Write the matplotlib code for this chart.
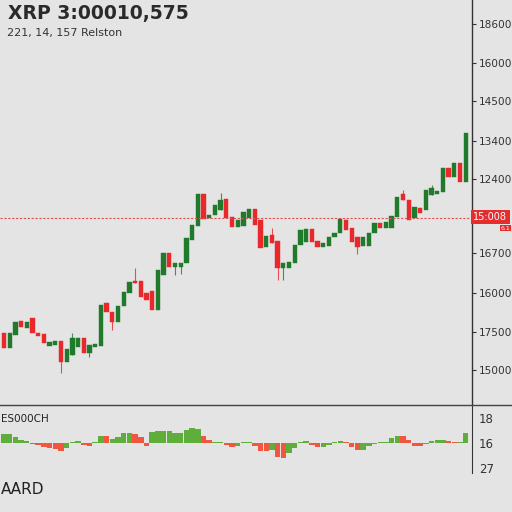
import matplotlib
matplotlib.use("Agg")
import matplotlib.pyplot as plt
import numpy as np

# candle data (arbitrary price units)
opens = [72, 57, 70, 84, 77, 87, 72, 71, 59, 60, 64, 43, 50, 58, 67, 52, 58, 59, 102, 93,
         83, 99, 112, 124, 124, 112, 114, 95, 130, 152, 138, 138, 142, 165, 179, 211, 187, 190, 195, 206,
         188, 178, 179, 187, 196, 185, 158, 170, 164, 137, 137, 142, 160, 163, 176, 164, 158, 159, 168, 172,
         185, 177, 168, 159, 159, 172, 182, 177, 177, 188, 211, 205, 187, 197, 195, 210, 211, 213, 237, 228,
         242, 223]
closes = [57, 72, 83, 78, 83, 72, 69, 62, 63, 64, 43, 56, 67, 67, 52, 60, 61, 100, 93, 83,
          99, 113, 123, 122, 108, 105, 95, 135, 152, 138, 142, 142, 167, 180, 211, 186, 190, 200, 205, 187,
          178, 185, 193, 196, 180, 157, 169, 162, 137, 142, 143, 160, 175, 176, 163, 158, 162, 168, 172, 186,
          175, 163, 158, 168, 172, 182, 177, 183, 189, 208, 205, 185, 198, 192, 215, 217, 214, 237, 228, 242,
          223, 272]
wick_hi = {12: 72, 23: 137, 38: 212, 47: 177, 70: 215, 75: 220}
wick_lo = {10: 32, 15: 48, 19: 75, 30: 130, 31: 131, 48: 125, 49: 125, 62: 151}

# volume-like histogram under the chart
hist_vals = [9, 9, 6, 3, 2, -1, -2, -4, -5, -6, -8, -5, 1, 2, -2, -3, 1, 7, 7, 4,
             6, 10, 10, 9, 6, -3, 11, 12, 12, 12, 10, 10, 13, 15, 14, 7, 3, 1, 1, -2,
             -4, -3, 1, 1, -3, -8, -8, -7, -14, -15, -10, -5, 1, 2, -2, -4, -4, -2, 1, 2,
             1, -4, -7, -7, -3, -1, 1, 1, 5, 7, 7, 3, -3, -3, -1, 2, 3, 3, 2, 1,
             1, 10]
hist_up = "GGGGGRRRRRRGGGRRGGRG" "GGGRRRGGGGGGGGGRRGGR" "RGGGRRRGRRGGGGRRGGGG" "RRRGGGGGGGRRRRGGGGRR" "GG"

price_ticks = [381, 342, 304, 264, 226, 152, 112, 73, 35]
price_labels = ["18600", "16000", "14500", "13400", "12400", "16700", "16000", "17500", "15000"]
last_level = 187
hist_ticks = [25, 0, -25]
hist_labels = ["18", "16", "27"]

bg = "#e4e4e4"
green = "#1f7a2c"
red = "#e8282a"
hgreen = "#5fae3c"
hred = "#f0573e"

fig = plt.figure(figsize=(5.12, 5.12), dpi=100, facecolor=bg)
W, H = 512, 512

ax = fig.add_axes([0, 1 - 405 / H, 472 / W, 405 / H], facecolor=bg)
x = np.arange(len(opens))
for i in x:
    o, c = opens[i], closes[i]
    col = green if c >= o else red
    lo = min(o, c)
    hi = max(o, c)
    top = wick_hi.get(i, hi)
    bot = wick_lo.get(i, lo)
    if top > hi or bot < lo:
        ax.vlines(i, bot, top, color=col, lw=0.8, alpha=0.8)
    ax.bar(i, max(hi - lo, 1.5), bottom=lo, width=0.75, color=col, edgecolor=col, lw=0.3)

ax.axhline(last_level, color="#e05050", lw=0.8, ls=(0, (2, 1.5)))
ax.set_xlim(-0.7, 82.1)
ax.set_ylim(0, 405)
for s in ["left", "top", "bottom"]:
    ax.spines[s].set_visible(False)
ax.spines["right"].set_color("#333333")
ax.spines["right"].set_linewidth(1.0)
ax.set_xticks([])
ax.yaxis.tick_right()
ax.set_yticks(price_ticks)
ax.set_yticklabels(price_labels)
ax.tick_params(axis="y", length=3, width=0.8, color="#333333", labelsize=7.6,
               labelcolor="#333333", pad=2)

# red price tag on the axis
ax.text(1.003, last_level + 1, "15:008", transform=ax.get_yaxis_transform(), ha="left", va="center",
        fontsize=7, color="white", bbox=dict(boxstyle="square,pad=0.25", fc="#e52d2d", ec="none"))
ax.text(1.06, last_level - 10, "6.1", transform=ax.get_yaxis_transform(), ha="left", va="center",
        fontsize=4.5, color="white", bbox=dict(boxstyle="square,pad=0.1", fc="#e52d2d", ec="none"))

# lower panel
hx = fig.add_axes([0, 1 - 480 / H, 472 / W, 75 / H], facecolor=bg)
cols = [hgreen if u == "G" else hred for u in hist_up]
hx.bar(x, hist_vals, width=0.95, color=cols)
hx.set_xlim(-0.7, 82.1)
hx.set_ylim(-37, 38)
for s in ["left", "top", "bottom"]:
    hx.spines[s].set_visible(False)
hx.spines["right"].set_color("#333333")
hx.spines["right"].set_bounds(-30, 38)
hx.set_xticks([])
hx.yaxis.tick_right()
hx.set_yticks(hist_ticks)
hx.set_yticklabels(hist_labels)
hx.tick_params(axis="y", length=0, labelsize=8.5, labelcolor="#333333", pad=5)

# separator line across the full width
fig.add_artist(plt.Line2D([0, 1], [1 - 405 / H, 1 - 405 / H], color="#444444", lw=1.0))

# texts
fig.text(8 / W, 1 - 14 / H, "XRP 3:00010,575", fontsize=13.5, fontweight="bold",
         color="#2a2a2a", va="center", ha="left")
fig.text(7 / W, 1 - 33 / H, "221, 14, 157 Relston", fontsize=8, color="#333333",
         va="center", ha="left")
fig.text(1 / W, 1 - 419 / H, "ES000CH", fontsize=7.5, color="#222222", va="center", ha="left")
fig.text(1 / W, 1 - 489 / H, "AARD", fontsize=11, color="#222222", va="center", ha="left")

fig.savefig("out.png", dpi=100, facecolor=bg)
